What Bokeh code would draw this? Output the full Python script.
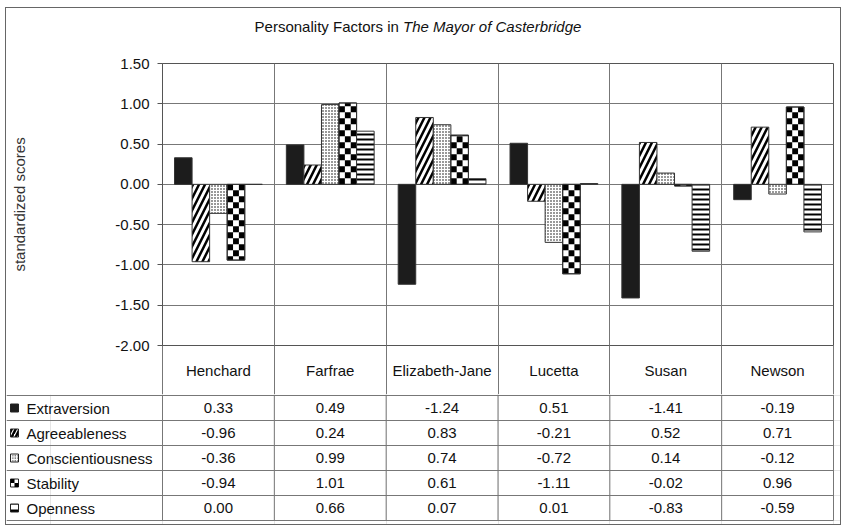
import math

from bokeh.plotting import figure
from bokeh.layouts import column
from bokeh.models import (ColumnDataSource, FixedTicker, Range1d, Div, PrintfTickFormatter)
from bokeh.core.properties import value
from bokeh.embed import file_html
from bokeh.resources import INLINE

# ---------------- data ----------------
characters = ["Henchard", "Farfrae", "Elizabeth-Jane", "Lucetta", "Susan", "Newson"]
factors = ["Extraversion", "Agreeableness", "Conscientiousness", "Stability", "Openness"]
extraversion = [0.33, 0.49, -1.24, 0.51, -1.41, -0.19]
agreeableness = [-0.96, 0.24, 0.83, -0.21, 0.52, 0.71]
conscientiousness = [-0.36, 0.99, 0.74, -0.72, 0.14, -0.12]
stability = [-0.94, 1.01, 0.61, -1.11, -0.02, 0.96]
openness = [0.00, 0.66, 0.07, 0.01, -0.83, -0.59]
y_ticks = [-2.0, -1.5, -1.0, -0.5, 0.0, 0.5, 1.0, 1.5]
title_plain = "Personality Factors in"
title_italic = "The Mayor of Casterbridge"
y_label = "standardized scores"

series = [extraversion, agreeableness, conscientiousness, stability, openness]

# ---------------- layout constants ----------------
FONT = "Liberation Sans"
FS = "15px"
W = 834
H_TITLE = 38
TOP = 17
FRAME_H = 282
BOTTOM = 49
H_TOP = TOP + FRAME_H + BOTTOM
H_TAB = 130
PLOT_L = 156
PLOT_R = 827
N = len(characters)
PPU = (PLOT_R - PLOT_L) / N
Y_PPU = FRAME_H / 3.5
GRID = "#777777"
BAR_W = 0.157
CHECK_PX = 6

styles = [
    dict(fill_color="#1c1c1c", hatch_pattern=None),
    dict(fill_color="white", hatch_pattern="/", hatch_scale=12, hatch_weight=2.5, hatch_color="black"),
    dict(fill_color="white", hatch_pattern=".", hatch_scale=3, hatch_weight=1, hatch_color="black"),
    dict(fill_color="white", hatch_pattern=None),
    dict(fill_color="white", hatch_pattern="-", hatch_scale=5, hatch_weight=2, hatch_color="black"),
]
CHECKER_INDEX = 3


def checker_cells(x_left, width, y_base, height, cw, ch):
    """Black cells of a checkerboard filling the box [x_left, x_left+width] x
    [y_base, y_base+height] (height may be negative)."""
    out = dict(left=[], right=[], bottom=[], top=[])
    sign = 1 if height >= 0 else -1
    n_r = int(math.ceil(abs(height) / ch - 1e-9))
    n_c = int(round(width / cw))
    for r in range(n_r):
        ya = y_base + sign * r * ch
        yb = y_base + sign * min((r + 1) * ch, abs(height))
        for c in range(n_c):
            if (r + c) % 2 == 0:
                out["left"].append(x_left + c * cw)
                out["right"].append(x_left + min((c + 1) * cw, width))
                out["bottom"].append(min(ya, yb))
                out["top"].append(max(ya, yb))
    return out


# ---------------- title ----------------
title = Div(text=f"{title_plain} <i>{title_italic}</i>", width=W, height=H_TITLE, margin=0,
            styles={"font-family": f"'{FONT}'", "font-size": FS, "color": "#111111",
                    "text-align": "center", "padding-top": "10px", "padding-right": "10px",
                    "line-height": "17px", "box-sizing": "border-box",
                    "width": f"{W}px", "height": f"{H_TITLE}px", "overflow": "hidden"})

# ---------------- chart ----------------
p = figure(width=W, height=H_TOP, x_range=Range1d(0, N), y_range=Range1d(-2.0, 1.5),
           output_backend="svg", toolbar_location=None,
           min_border_left=PLOT_L, min_border_right=W - PLOT_R,
           min_border_top=TOP, min_border_bottom=BOTTOM, frame_align=False)
p.outline_line_color = "#555555"
p.background_fill_color = "white"
p.border_fill_color = "white"

ay = p.yaxis[0]
ay.ticker = FixedTicker(ticks=y_ticks)
ay.formatter = PrintfTickFormatter(format="%.2f")
ay.major_label_text_font = FONT
ay.major_label_text_font_size = FS
ay.major_label_text_color = "#111111"
ay.major_tick_out = 5
ay.major_tick_in = 0
ay.minor_tick_out = 0
ay.minor_tick_in = 0
ay.major_label_standoff = 8
ay.axis_line_color = "#555555"
ay.major_tick_line_color = "#555555"
ay.axis_label = y_label
ay.axis_label_text_font = FONT
ay.axis_label_text_font_size = FS
ay.axis_label_text_font_style = "normal"
ay.axis_label_text_color = "#333333"
ay.axis_label_standoff = 84

ax = p.xaxis[0]
ax.ticker = FixedTicker(ticks=[i + 0.5 for i in range(N)], minor_ticks=list(range(N + 1)))
ax.major_label_overrides = {i + 0.5: c for i, c in enumerate(characters)}
ax.major_label_text_font = FONT
ax.major_label_text_font_size = FS
ax.major_label_text_color = "#111111"
ax.major_tick_out = 0
ax.major_tick_in = 0
ax.minor_tick_out = BOTTOM
ax.minor_tick_in = 0
ax.minor_tick_line_color = GRID
ax.major_label_standoff = 16 - BOTTOM
ax.axis_line_color = "#555555"

p.ygrid.ticker = FixedTicker(ticks=y_ticks)
p.ygrid.grid_line_color = GRID
p.xgrid.ticker = FixedTicker(ticks=list(range(1, N)))
p.xgrid.grid_line_color = GRID

for k, vals in enumerate(series):
    xs = [i + 0.5 + (k - 2) * BAR_W for i in range(N)]
    src = ColumnDataSource(dict(x=xs, top=vals))
    p.vbar(x="x", top="top", bottom=0, width=BAR_W, source=src,
           line_color="#333333", line_width=1, **styles[k])
    if k == CHECKER_INDEX:
        cells = dict(left=[], right=[], bottom=[], top=[])
        for xc, v in zip(xs, vals):
            part = checker_cells(xc - BAR_W / 2, BAR_W, 0.0, v, BAR_W / 3, CHECK_PX / Y_PPU)
            for key in cells:
                cells[key].extend(part[key])
        p.quad(source=ColumnDataSource(cells), left="left", right="right",
               bottom="bottom", top="top", fill_color="black", line_color=None)
        p.vbar(x="x", top="top", bottom=0, width=BAR_W, source=src,
               fill_color=None, line_color="#333333", line_width=1)

# ---------------- data table ----------------
left = -PLOT_L / PPU
right = N + (W - PLOT_R) / PPU
n_rows = len(factors)
t_y0, t_y1 = -0.16, n_rows + 0.04
T_PPU = H_TAB / (t_y1 - t_y0)
t = figure(width=W, height=H_TAB, x_range=Range1d(left, right), y_range=Range1d(t_y0, t_y1),
           x_axis_location=None, y_axis_location=None, min_border=0,
           output_backend="svg", toolbar_location=None, frame_align=False)
t.outline_line_color = None
t.background_fill_color = "white"
t.border_fill_color = "white"

row_y = [n_rows - 0.5 - k for k in range(n_rows)]
t.segment(x0=[left] * (n_rows + 1), x1=[N] * (n_rows + 1),
          y0=list(range(n_rows + 1)), y1=list(range(n_rows + 1)),
          line_color=GRID, line_width=1)
t.segment(x0=list(range(N + 1)), x1=list(range(N + 1)),
          y0=[0] * (N + 1), y1=[t_y1] * (N + 1), line_color=GRID, line_width=1)

for k, vals in enumerate(series):
    t.text(x=[i + 0.5 for i in range(N)], y=[row_y[k]] * N,
           text=["%.2f" % v for v in vals],
           text_font=value(FONT), text_font_size=value(FS), text_align="center",
           text_baseline="middle", text_color="#111111")

t.text(x=[left + 20 / PPU] * n_rows, y=row_y, text=factors,
       text_font=value(FONT), text_font_size=value(FS), text_align="left",
       text_baseline="middle", text_color="#111111")

icon_styles = [dict(s) for s in styles]
icon_styles[1]["hatch_scale"] = 8
icon_styles[2]["hatch_scale"] = 2.5
icon_styles[4]["hatch_scale"] = 8
icon_styles[4]["hatch_weight"] = 3
icon_x = left + 8 / PPU
ICON = 8
for k in range(n_rows):
    t.rect(x=[icon_x], y=[row_y[k]], width=ICON, height=ICON,
           width_units="screen", height_units="screen",
           line_color="#222222", line_width=1, **icon_styles[k])
    if k == CHECKER_INDEX:
        wx = ICON / PPU
        hy = ICON / T_PPU
        part = checker_cells(icon_x - wx / 2, wx, row_y[k] + hy / 2, -hy, wx / 2, hy / 2)
        t.quad(source=ColumnDataSource(part), left="left", right="right",
               bottom="bottom", top="top", fill_color="black", line_color=None)

layout = column(title, p, t, margin=(7, 0, 0, 5), styles={"border": "1px solid #666666"})
open("out.html", "w").write(file_html(layout, INLINE))
